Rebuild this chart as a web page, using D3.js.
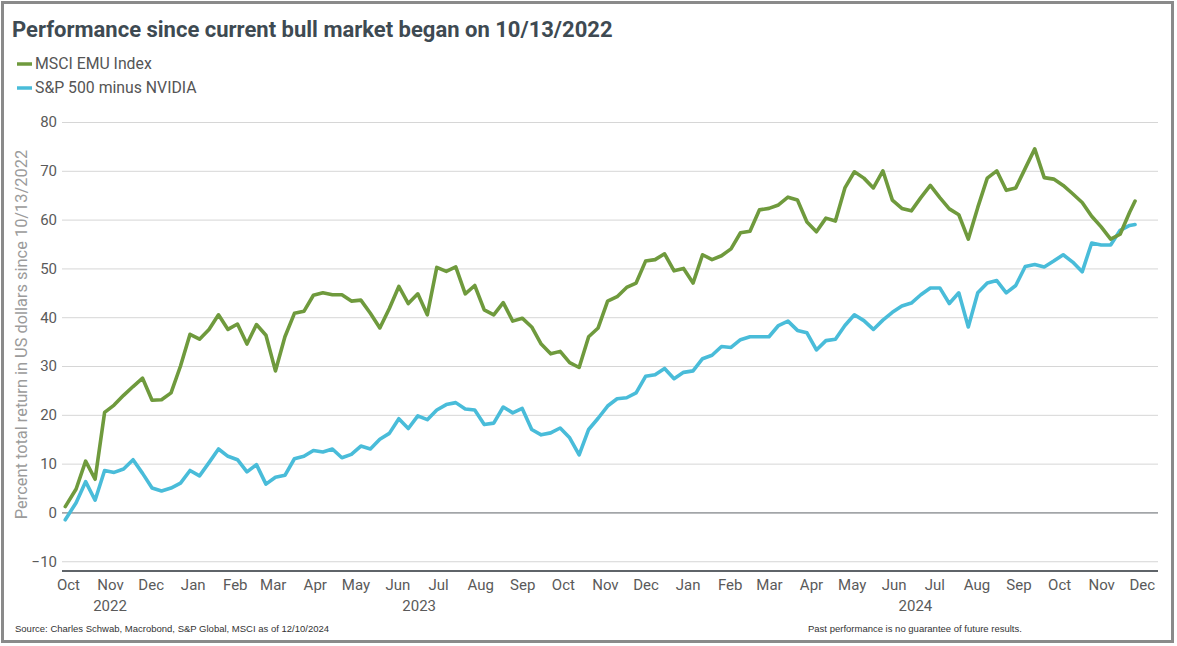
<!DOCTYPE html>
<html>
<head>
<meta charset="utf-8">
<script src="https://cdn.jsdelivr.net/npm/d3@7"></script>
<style>
  body { margin: 0; background: #fff; }
  svg { display: block; }
</style>
</head>
<body>
<div id="chart"></div>
<script>
// weekly closes (first = start of the bull market, last = 12/10/2024)
const dates = [
  "2022-10-13","2022-10-21","2022-10-28","2022-11-04","2022-11-11","2022-11-18","2022-11-25",
  "2022-12-02","2022-12-09","2022-12-16","2022-12-23","2022-12-30",
  "2023-01-06","2023-01-13","2023-01-20","2023-01-27","2023-02-03","2023-02-10","2023-02-17","2023-02-24",
  "2023-03-03","2023-03-10","2023-03-17","2023-03-24","2023-03-31","2023-04-07","2023-04-14","2023-04-21","2023-04-28",
  "2023-05-05","2023-05-12","2023-05-19","2023-05-26","2023-06-02","2023-06-09","2023-06-16","2023-06-23","2023-06-30",
  "2023-07-07","2023-07-14","2023-07-21","2023-07-28","2023-08-04","2023-08-11","2023-08-18","2023-08-25",
  "2023-09-01","2023-09-08","2023-09-15","2023-09-22","2023-09-29","2023-10-06","2023-10-13","2023-10-20","2023-10-27",
  "2023-11-03","2023-11-10","2023-11-17","2023-11-24","2023-12-01","2023-12-08","2023-12-15","2023-12-22","2023-12-29",
  "2024-01-05","2024-01-12","2024-01-19","2024-01-26","2024-02-02","2024-02-09","2024-02-16","2024-02-23",
  "2024-03-01","2024-03-08","2024-03-15","2024-03-22","2024-03-29","2024-04-05","2024-04-12","2024-04-19","2024-04-26",
  "2024-05-03","2024-05-10","2024-05-17","2024-05-24","2024-05-31","2024-06-07","2024-06-14","2024-06-21","2024-06-28",
  "2024-07-05","2024-07-12","2024-07-19","2024-07-26","2024-08-02","2024-08-09","2024-08-16","2024-08-23","2024-08-30",
  "2024-09-06","2024-09-13","2024-09-20","2024-09-27","2024-10-04","2024-10-11","2024-10-18","2024-10-25",
  "2024-11-01","2024-11-08","2024-11-15","2024-11-22","2024-11-29","2024-12-06","2024-12-10"
];

const msciEmu = [
  1.2, 4.8, 10.5, 6.8, 20.5, 22.0, 24.0, 25.8, 27.5, 23.0, 23.1, 24.5,
  30.0, 36.5, 35.5, 37.5, 40.5, 37.5, 38.6, 34.5,
  38.5, 36.3, 29.0, 36.0, 40.8, 41.2, 44.5, 45.0, 44.6,
  44.6, 43.3, 43.5, 40.8, 37.8, 41.8, 46.3, 42.8, 44.8,
  40.5, 50.2, 49.4, 50.3, 44.8, 46.5, 41.5, 40.5,
  43.0, 39.2, 39.8, 38.0, 34.5, 32.5, 33.0, 30.7, 29.7,
  36.0, 37.8, 43.3, 44.2, 46.1, 47.0, 51.5, 51.8, 53.0,
  49.5, 50.0, 47.0, 52.8, 51.8, 52.6, 54.0, 57.3,
  57.6, 62.0, 62.3, 63.0, 64.6, 64.0, 59.5, 57.5, 60.3,
  59.7, 66.5, 69.8, 68.5, 66.5, 70.0, 64.0, 62.3, 61.8,
  64.5, 67.0, 64.5, 62.2, 61.0, 56.0, 62.5, 68.5, 70.0,
  66.0, 66.5, 70.5, 74.5, 68.6, 68.3, 67.0, 65.3,
  63.5, 60.7, 58.5, 56.0, 57.0, 61.5, 63.8
];

const sp500ExNvidia = [
  -1.5, 2.0, 6.3, 2.5, 8.6, 8.2, 8.9, 10.8, 8.0, 5.0, 4.4, 5.0,
  6.0, 8.6, 7.5, 10.2, 13.0, 11.5, 10.8, 8.3,
  9.8, 5.8, 7.2, 7.6, 11.0, 11.5, 12.7, 12.4, 13.0,
  11.2, 11.9, 13.6, 13.0, 15.0, 16.2, 19.2, 17.2, 19.8,
  19.0, 21.0, 22.1, 22.5, 21.2, 21.0, 18.0, 18.3,
  21.6, 20.4, 21.3, 17.0, 15.9, 16.3, 17.3, 15.3, 11.8,
  17.0, 19.3, 21.8, 23.3, 23.5, 24.5, 27.9, 28.2, 29.5,
  27.4, 28.7, 29.0, 31.5, 32.2, 34.0, 33.8, 35.4,
  36.0, 36.0, 36.0, 38.3, 39.2, 37.3, 36.8, 33.3, 35.2,
  35.5, 38.3, 40.5, 39.3, 37.5, 39.4, 41.0, 42.3, 42.9,
  44.6, 46.0, 46.0, 42.8, 45.0, 38.0, 45.0, 47.0, 47.5,
  45.0, 46.5, 50.4, 50.8, 50.3, 51.5, 52.8, 51.3,
  49.3, 55.2, 54.8, 54.8, 57.8, 58.8, 59.0
];

const seriesNames = ["MSCI EMU Index", "S&P 500 minus NVIDIA"];
const seriesColors = ["#6f9a3d", "#49bcd9"];
const yTicks = [-10, 0, 10, 20, 30, 40, 50, 60, 70, 80];
const years = ["2022", "2023", "2024"];
const yearDates = ["2022-11-15", "2023-07-01", "2024-07-01"];

const parseDate = d3.timeParse("%Y-%m-%d");

/**
 * set the dimensions and margins of the graph
 */
function graphDimensions() {
    const margin = {top: 122, right: 19, bottom: 75, left: 62};
    const width = 1177 - margin.left - margin.right;
    const height = 646 - margin.top - margin.bottom;
    return [width, height, margin];
}

/**
 * Appends the svg and the outer frame to the dom.
 */
function appendToDom(width, height, margin) {
    const root = d3.select("#chart").append("svg")
        .attr("width", width + margin.left + margin.right)
        .attr("height", height + margin.top + margin.bottom);
    root.append("rect")
        .attr("x", 0).attr("y", 0)
        .attr("width", 1177).attr("height", 646)
        .attr("fill", "#fff");
    root.append("rect")
        .attr("x", 2.5).attr("y", 2.5)
        .attr("width", 1170).attr("height", 639)
        .attr("fill", "none")
        .attr("stroke", "#8a8a8a")
        .attr("stroke-width", 3);
    const svg = root.append("g")
        .attr("transform", "translate(" + margin.left + "," + margin.top + ")");
    return [root, svg];
}

function XScale(width) {
    return d3.scaleTime()
        .domain([new Date(2022, 9, 10, 14), new Date(2024, 11, 26, 22)])
        .range([0, width]);
}

function YScale(height) {
    return d3.scaleLinear().domain([-12, 80]).range([height, 0]);
}

/**
 * Horizontal grid lines, tick labels and the zero line.
 */
function drawYAxis(svg, y, width) {
    const g = svg.append("g")
        .attr("class", "axis axis--y")
        .call(d3.axisLeft(y).tickValues(yTicks).tickSize(-width).tickPadding(5));
    g.select(".domain").remove();
    g.selectAll(".tick line")
        .attr("stroke", d => d === 0 ? "#5f6469" : "#d6d6d6")
        .attr("stroke-width", 1);
    g.selectAll(".tick text")
        .attr("fill", "#5a5a5a")
        .style("font-family", "Roboto, 'Open Sans', sans-serif")
        .style("font-size", "15px");
}

/**
 * Month labels (centred mid-month), the year row and the base line.
 */
function drawXAxis(svg, x, width, height) {
    const monthTicks = d3.timeMonth.range(new Date(2022, 9, 1), new Date(2025, 0, 1))
        .map(d => d3.timeDay.offset(d, 14));
    const g = svg.append("g")
        .attr("class", "axis axis--x")
        .attr("transform", "translate(0," + height + ")")
        .call(d3.axisBottom(x).tickValues(monthTicks).tickSize(0).tickPadding(8)
            .tickFormat(d3.timeFormat("%b")));
    g.select(".domain").remove();
    g.selectAll(".tick text")
        .attr("fill", "#5a5a5a")
        .style("font-family", "Roboto, 'Open Sans', sans-serif")
        .style("font-size", "15px");

    svg.append("line")
        .attr("x1", 0).attr("x2", width)
        .attr("y1", height).attr("y2", height)
        .attr("stroke", "#5f6469")
        .attr("stroke-width", 2);

    svg.selectAll(".year-label")
        .data(years)
        .enter()
        .append("text")
        .attr("class", "year-label")
        .attr("x", (d, i) => x(parseDate(yearDates[i])))
        .attr("y", height + 40)
        .attr("text-anchor", "middle")
        .attr("fill", "#5a5a5a")
        .style("font-family", "Roboto, 'Open Sans', sans-serif")
        .style("font-size", "15px")
        .text(d => d);
}

function labelYName(svg, height, margin) {
    svg.append("text")
        .attr("text-anchor", "middle")
        .attr("transform", "translate(" + (-margin.left + 27) + "," + (height / 2 - 12) + ")rotate(-90)")
        .attr("fill", "#9b9b9b")
        .style("font-family", "Roboto, 'Open Sans', sans-serif")
        .style("font-size", "16.4px")
        .text("Percent total return in US dollars since 10/13/2022");
}

function drawLines(svg, x, y) {
    const series = [msciEmu, sp500ExNvidia];
    const line = d3.line()
        .x((d, i) => x(parseDate(dates[i])))
        .y(d => y(d));
    // draw the S&P line first so the green one sits on top, as in the original
    [1, 0].forEach(s => {
        svg.append("path")
            .datum(series[s])
            .attr("fill", "none")
            .attr("stroke", seriesColors[s])
            .attr("stroke-width", 3.6)
            .attr("stroke-linejoin", "round")
            .attr("stroke-linecap", "round")
            .attr("d", line);
    });
}

function graphTitle(root) {
    root.append("text")
        .attr("x", 12)
        .attr("y", 37)
        .attr("fill", "#3e4a52")
        .style("font-family", "Roboto, sans-serif")
        .style("font-weight", "bold")
        .style("font-size", "22px")
        .text("Performance since current bull market began on 10/13/2022");
}

function drawLegend(root) {
    const item = root.selectAll(".legend")
        .data(seriesNames)
        .enter()
        .append("g")
        .attr("class", "legend")
        .attr("transform", (d, i) => "translate(17," + (64 + i * 24) + ")");
    item.append("line")
        .attr("x1", 0).attr("x2", 15)
        .attr("stroke", (d, i) => seriesColors[i])
        .attr("stroke-width", 3.5);
    item.append("text")
        .attr("x", 18)
        .attr("y", 5)
        .attr("fill", "#555")
        .style("font-family", "Roboto, 'Open Sans', sans-serif")
        .style("font-size", "15.8px")
        .text(d => d);
}

function footnotes(root) {
    root.append("text")
        .attr("x", 15).attr("y", 632)
        .attr("fill", "#333")
        .style("font-family", "'Liberation Sans', Arial, sans-serif")
        .style("font-size", "9.5px")
        .text("Source: Charles Schwab, Macrobond, S&P Global, MSCI as of 12/10/2024");
    root.append("text")
        .attr("x", 808).attr("y", 632)
        .attr("fill", "#333")
        .style("font-family", "'Liberation Sans', Arial, sans-serif")
        .style("font-size", "9.5px")
        .text("Past performance is no guarantee of future results.");
}

function drawGraph() {
    const [width, height, margin] = graphDimensions();
    const [root, svg] = appendToDom(width, height, margin);
    const x = XScale(width);
    const y = YScale(height);
    drawYAxis(svg, y, width);
    drawXAxis(svg, x, width, height);
    labelYName(svg, height, margin);
    drawLines(svg, x, y);
    graphTitle(root);
    drawLegend(root);
    footnotes(root);
}

drawGraph();
</script>
</body>
</html>
